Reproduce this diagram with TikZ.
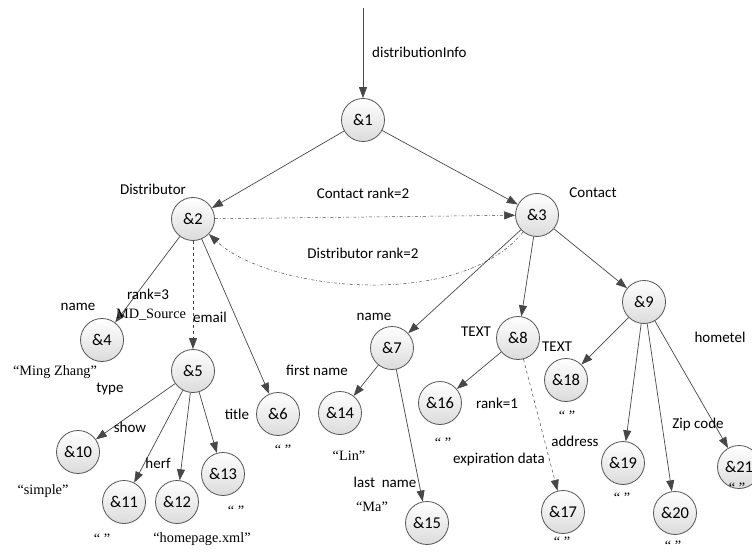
\documentclass[tikz,border=0pt]{standalone}
\usepackage{fontspec}
\setmainfont{Carlito}
\newfontfamily\qfont{Liberation Serif}
\usetikzlibrary{arrows.meta}
\definecolor{EdgeGray}{HTML}{474747}
\definecolor{RimGray}{HTML}{555555}

\begin{document}
\begin{tikzpicture}[x=1pt,y=-1pt,
  nd/.style={circle,draw=RimGray,line width=0.8pt,top color=white,bottom color=black!14,
    minimum size=43pt,inner sep=0pt,font=\fontsize{16.5}{18}\selectfont},
  lab/.style={font=\fontsize{15}{17}\selectfont,inner sep=1pt},
  qt/.style={font=\qfont\fontsize{14.3}{16}\selectfont,inner sep=1pt},
  arr/.style={draw=EdgeGray,line width=0.7pt,-{Triangle[length=11pt,width=8pt]}},
  dsh/.style={arr,dashed},
  dshdot/.style={arr,dash dot,line width=0.5pt}]
\useasboundingbox (0,0) rectangle (752,556);
\node[nd] (n1) at (363,120) {\&1};
\node[nd] (n2) at (193,219) {\&2};
\node[nd] (n3) at (537,215) {\&3};
\node[nd] (n4) at (102,340) {\&4};
\node[nd] (n5) at (193,371) {\&5};
\node[nd] (n6) at (278,414) {\&6};
\node[nd] (n7) at (392,348) {\&7};
\node[nd] (n8) at (518,338) {\&8};
\node[nd] (n9) at (644,302) {\&9};
\node[nd] (n10) at (78,452) {\&10};
\node[nd] (n11) at (124,502) {\&11};
\node[nd] (n12) at (177,502) {\&12};
\node[nd] (n13) at (223,474) {\&13};
\node[nd] (n14) at (340,413) {\&14};
\node[nd] (n15) at (427,523) {\&15};
\node[nd] (n16) at (440,403) {\&16};
\node[nd] (n17) at (563,512) {\&17};
\node[nd] (n18) at (566,380) {\&18};
\node[nd] (n19) at (623,463) {\&19};
\node[nd] (n20) at (675,513) {\&20};
\node[nd] (n21) at (739,467) {\&21};
\coordinate (top) at (363,8);
\draw[arr] (top) -- (n1);
\draw[arr] (n1) -- (n2);
\draw[arr] (n1) -- (n3);
\draw[dshdot] (n2) -- (n3);
\draw[dshdot] (n3) .. controls (458,312) and (268,290) .. (n2);
\draw[arr] (n2) -- (n4);
\draw[dsh] (n2) -- (n5);
\draw[arr] (n2) -- (n6);
\draw[arr] (n5) -- (n10);
\draw[arr] (n5) -- (n11);
\draw[arr] (n5) -- (n12);
\draw[arr] (n5) -- (n13);
\draw[arr] (n3) -- (n7);
\draw[arr] (n3) -- (n8);
\draw[arr] (n3) -- (n9);
\draw[arr] (n7) -- (n14);
\draw[arr] (n7) -- (n15);
\draw[arr] (n8) -- (n16);
\draw[dsh,line width=0.5pt] (n8) -- (n17);
\draw[arr] (n9) -- (n18);
\draw[arr] (n9) -- (n19);
\draw[arr] (n9) -- (n20);
\draw[arr] (n9) -- (n21);
\node[lab,anchor=west] (tdist) at (371,52) {distributionInfo};
\node[lab] (tdistr) at (153,189) {Distributor};
\node[lab] (tcont) at (593,193) {Contact};
\node[lab] (tcrank) at (363,193) {Contact rank=2};
\node[lab] (tdrank) at (363,253) {Distributor rank=2};
\node[lab] (tname) at (78,307) {name};
\node[lab] (trank3) at (148,294) {rank=3};
\node[qt] (tmd) at (151,315) {MD\_Source};
\node[lab] (temail) at (210,317) {email};
\node[qt] (tming) at (55,372) {“Ming Zhang”};
\node[lab] (ttype) at (110,389) {type};
\node[lab] (tshow) at (130,427) {show};
\node[lab] (therf) at (158,463) {herf};
\node[lab] (ttitle) at (237,414) {title};
\node[qt] (tsimple) at (43,491) {“simple”};
\node[qt] (tq11) at (102,539) {“ ”};
\node[qt] (thome) at (202,539) {“homepage.xml”};
\node[qt] (tq13) at (236,511) {“ ”};
\node[qt] (tq6) at (283,450) {“ ”};
\node[qt] (tlin) at (349,456) {“Lin”};
\node[lab] (tfirst) at (317,370) {first name};
\node[lab] (tname7) at (374,317) {name};
\node[lab] (tlast) at (385,482) {last\ \ name};
\node[qt] (tma) at (372,507) {“Ma”};
\node[lab] (ttext1) at (476,332) {TEXT};
\node[lab] (ttext2) at (557,347) {TEXT};
\node[lab] (trank1) at (497,403) {rank=1};
\node[qt] (tq16) at (443,443) {“ ”};
\node[lab] (texp) at (499,459) {expiration data};
\node[lab] (taddr) at (575,441) {address};
\node[qt] (tq18) at (567,416) {“ ”};
\node[qt] (tq19) at (622,498) {“ ”};
\node[qt] (tq17) at (562,542) {“ ”};
\node[qt] (tq20) at (673,546) {“ ”};
\node[qt] (tq21) at (737,488) {“ ”};
\node[lab] (tzip) at (698,424) {Zip code};
\node[lab] (thome) at (720,337) {hometel};
\end{tikzpicture}
\end{document}
